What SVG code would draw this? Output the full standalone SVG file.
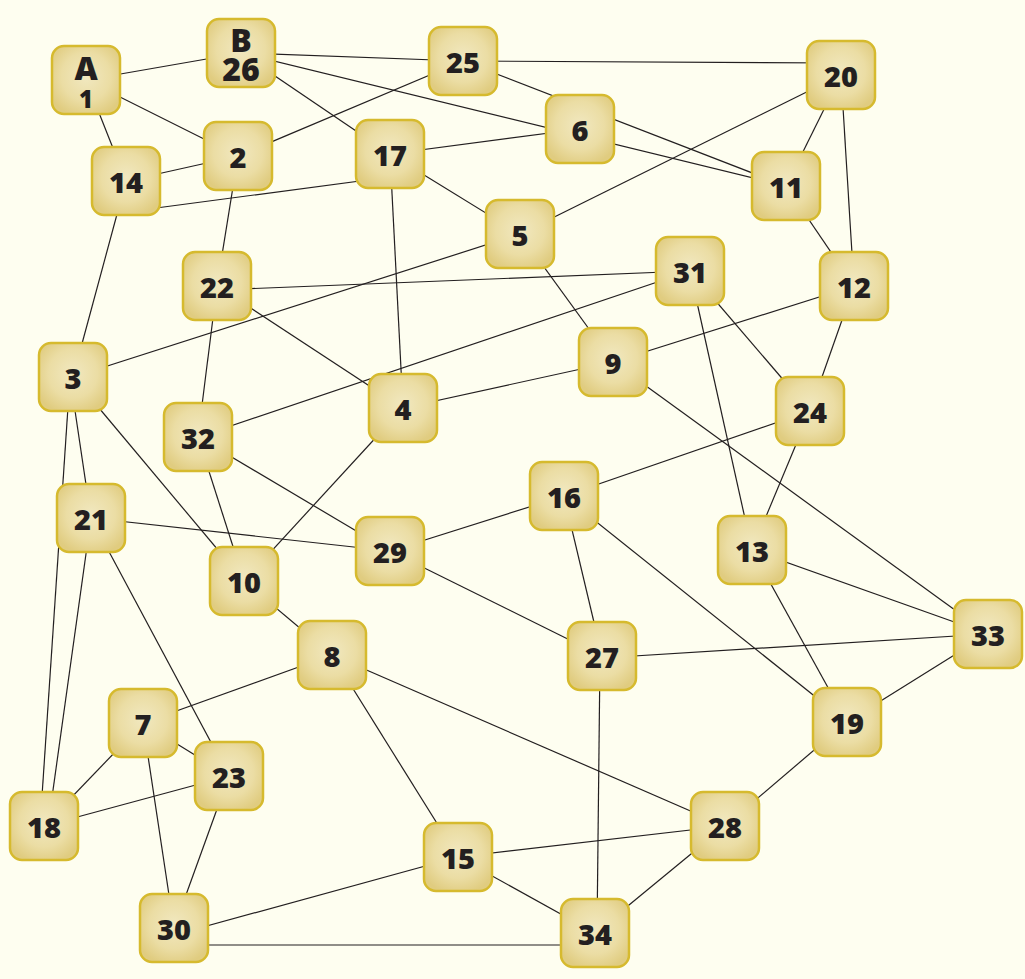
<svg xmlns="http://www.w3.org/2000/svg" width="1025" height="979" viewBox="0 0 1025 979">
<defs>
<radialGradient id="g" cx="50%" cy="45%" r="60%">
<stop offset="0" stop-color="#f1e8c0"/>
<stop offset="0.6" stop-color="#ebdda4"/>
<stop offset="1" stop-color="#e0cc80"/>
</radialGradient>
<style>
.bg{fill:#fefef0}
.n rect{fill:url(#g);stroke:#d6ba2e;stroke-width:2.5}
.n text{font-family:"Open Sans","DejaVu Sans",sans-serif;font-weight:800;font-size:29px;fill:#231f20;text-anchor:middle}
#edges line{stroke:#231f20;stroke-width:1.2}
</style>
</defs>
<rect class="bg" x="0" y="0" width="1025" height="979"/>
<g id="edges">
<line x1="86" y1="80" x2="241" y2="53"/>
<line x1="86" y1="80" x2="238" y2="156"/>
<line x1="86" y1="80" x2="126" y2="181"/>
<line x1="241" y1="53" x2="463" y2="61"/>
<line x1="241" y1="53" x2="390" y2="154"/>
<line x1="241" y1="53" x2="786" y2="186"/>
<line x1="463" y1="61" x2="841" y2="63"/>
<line x1="463" y1="61" x2="786" y2="186"/>
<line x1="463" y1="61" x2="238" y2="156"/>
<line x1="841" y1="75" x2="786" y2="186"/>
<line x1="841" y1="75" x2="854" y2="286"/>
<line x1="841" y1="75" x2="520" y2="234"/>
<line x1="580" y1="129" x2="390" y2="154"/>
<line x1="238" y1="156" x2="126" y2="181"/>
<line x1="238" y1="156" x2="217" y2="286"/>
<line x1="390" y1="177" x2="126" y2="212"/>
<line x1="390" y1="154" x2="520" y2="234"/>
<line x1="390" y1="154" x2="403" y2="408"/>
<line x1="126" y1="181" x2="73" y2="377"/>
<line x1="786" y1="186" x2="854" y2="286"/>
<line x1="520" y1="234" x2="73" y2="377"/>
<line x1="520" y1="234" x2="613" y2="362"/>
<line x1="217" y1="290" x2="690" y2="271"/>
<line x1="217" y1="286" x2="403" y2="408"/>
<line x1="217" y1="286" x2="198" y2="437"/>
<line x1="690" y1="271" x2="198" y2="437"/>
<line x1="690" y1="271" x2="810" y2="411"/>
<line x1="690" y1="271" x2="752" y2="550"/>
<line x1="854" y1="286" x2="613" y2="362"/>
<line x1="854" y1="286" x2="810" y2="411"/>
<line x1="70" y1="377" x2="91" y2="518"/>
<line x1="70" y1="377" x2="40" y2="826"/>
<line x1="73" y1="377" x2="244" y2="581"/>
<line x1="613" y1="362" x2="403" y2="408"/>
<line x1="613" y1="362" x2="988" y2="634"/>
<line x1="403" y1="408" x2="244" y2="581"/>
<line x1="810" y1="411" x2="564" y2="496"/>
<line x1="810" y1="411" x2="752" y2="550"/>
<line x1="198" y1="437" x2="244" y2="581"/>
<line x1="198" y1="437" x2="390" y2="551"/>
<line x1="564" y1="496" x2="390" y2="551"/>
<line x1="564" y1="496" x2="602" y2="656"/>
<line x1="564" y1="496" x2="847" y2="722"/>
<line x1="91" y1="518" x2="390" y2="551"/>
<line x1="91" y1="518" x2="48" y2="826"/>
<line x1="91" y1="518" x2="229" y2="776"/>
<line x1="752" y1="550" x2="988" y2="634"/>
<line x1="752" y1="550" x2="847" y2="722"/>
<line x1="390" y1="551" x2="602" y2="656"/>
<line x1="244" y1="581" x2="332" y2="655"/>
<line x1="988" y1="634" x2="602" y2="658"/>
<line x1="988" y1="634" x2="847" y2="722"/>
<line x1="332" y1="655" x2="143" y2="723"/>
<line x1="332" y1="655" x2="458" y2="857"/>
<line x1="332" y1="655" x2="725" y2="826"/>
<line x1="143" y1="723" x2="44" y2="826"/>
<line x1="143" y1="723" x2="229" y2="776"/>
<line x1="143" y1="723" x2="174" y2="928"/>
<line x1="847" y1="722" x2="725" y2="826"/>
<line x1="229" y1="776" x2="44" y2="826"/>
<line x1="229" y1="776" x2="174" y2="928"/>
<line x1="725" y1="826" x2="458" y2="857"/>
<line x1="725" y1="826" x2="595" y2="933"/>
<line x1="458" y1="857" x2="174" y2="935"/>
<line x1="458" y1="857" x2="595" y2="933"/>
<line x1="174" y1="945" x2="595" y2="945"/>
<line x1="600" y1="656" x2="597" y2="933"/>
</g>
<g id="nA" class="n"><rect x="52" y="46" width="68" height="68" rx="12"/><text x="86" y="80" style="font-size:32px">A<tspan x="86" y="108" style="font-size:24px">1</tspan></text></g>
<g id="nB" class="n"><rect x="207" y="19" width="68" height="68" rx="12"/><text x="241" y="52" style="font-size:32px">B<tspan x="241" y="81">26</tspan></text></g>
<g id="n25" class="n"><rect x="429" y="27" width="68" height="68" rx="12"/><text x="463" y="73">25</text></g>
<g id="n20" class="n"><rect x="807" y="41" width="68" height="68" rx="12"/><text x="841" y="87">20</text></g>
<g id="n6" class="n"><rect x="546" y="95" width="68" height="68" rx="12"/><text x="580" y="141">6</text></g>
<g id="n2" class="n"><rect x="204" y="122" width="68" height="68" rx="12"/><text x="238" y="168">2</text></g>
<g id="n17" class="n"><rect x="356" y="120" width="68" height="68" rx="12"/><text x="390" y="166">17</text></g>
<g id="n14" class="n"><rect x="92" y="147" width="68" height="68" rx="12"/><text x="126" y="193">14</text></g>
<g id="n11" class="n"><rect x="752" y="152" width="68" height="68" rx="12"/><text x="786" y="198">11</text></g>
<g id="n5" class="n"><rect x="486" y="200" width="68" height="68" rx="12"/><text x="520" y="246">5</text></g>
<g id="n22" class="n"><rect x="183" y="252" width="68" height="68" rx="12"/><text x="217" y="298">22</text></g>
<g id="n31" class="n"><rect x="656" y="237" width="68" height="68" rx="12"/><text x="690" y="283">31</text></g>
<g id="n12" class="n"><rect x="820" y="252" width="68" height="68" rx="12"/><text x="854" y="298">12</text></g>
<g id="n3" class="n"><rect x="39" y="343" width="68" height="68" rx="12"/><text x="73" y="389">3</text></g>
<g id="n9" class="n"><rect x="579" y="328" width="68" height="68" rx="12"/><text x="613" y="374">9</text></g>
<g id="n4" class="n"><rect x="369" y="374" width="68" height="68" rx="12"/><text x="403" y="420">4</text></g>
<g id="n24" class="n"><rect x="776" y="377" width="68" height="68" rx="12"/><text x="810" y="423">24</text></g>
<g id="n32" class="n"><rect x="164" y="403" width="68" height="68" rx="12"/><text x="198" y="449">32</text></g>
<g id="n16" class="n"><rect x="530" y="462" width="68" height="68" rx="12"/><text x="564" y="508">16</text></g>
<g id="n21" class="n"><rect x="57" y="484" width="68" height="68" rx="12"/><text x="91" y="530">21</text></g>
<g id="n13" class="n"><rect x="718" y="516" width="68" height="68" rx="12"/><text x="752" y="562">13</text></g>
<g id="n29" class="n"><rect x="356" y="517" width="68" height="68" rx="12"/><text x="390" y="563">29</text></g>
<g id="n10" class="n"><rect x="210" y="547" width="68" height="68" rx="12"/><text x="244" y="593">10</text></g>
<g id="n33" class="n"><rect x="954" y="600" width="68" height="68" rx="12"/><text x="988" y="646">33</text></g>
<g id="n8" class="n"><rect x="298" y="621" width="68" height="68" rx="12"/><text x="332" y="667">8</text></g>
<g id="n27" class="n"><rect x="568" y="622" width="68" height="68" rx="12"/><text x="602" y="668">27</text></g>
<g id="n7" class="n"><rect x="109" y="689" width="68" height="68" rx="12"/><text x="143" y="735">7</text></g>
<g id="n19" class="n"><rect x="813" y="688" width="68" height="68" rx="12"/><text x="847" y="734">19</text></g>
<g id="n23" class="n"><rect x="195" y="742" width="68" height="68" rx="12"/><text x="229" y="788">23</text></g>
<g id="n18" class="n"><rect x="10" y="792" width="68" height="68" rx="12"/><text x="44" y="838">18</text></g>
<g id="n28" class="n"><rect x="691" y="792" width="68" height="68" rx="12"/><text x="725" y="838">28</text></g>
<g id="n15" class="n"><rect x="424" y="823" width="68" height="68" rx="12"/><text x="458" y="869">15</text></g>
<g id="n30" class="n"><rect x="140" y="894" width="68" height="68" rx="12"/><text x="174" y="940">30</text></g>
<g id="n34" class="n"><rect x="561" y="899" width="68" height="68" rx="12"/><text x="595" y="945">34</text></g>
</svg>
